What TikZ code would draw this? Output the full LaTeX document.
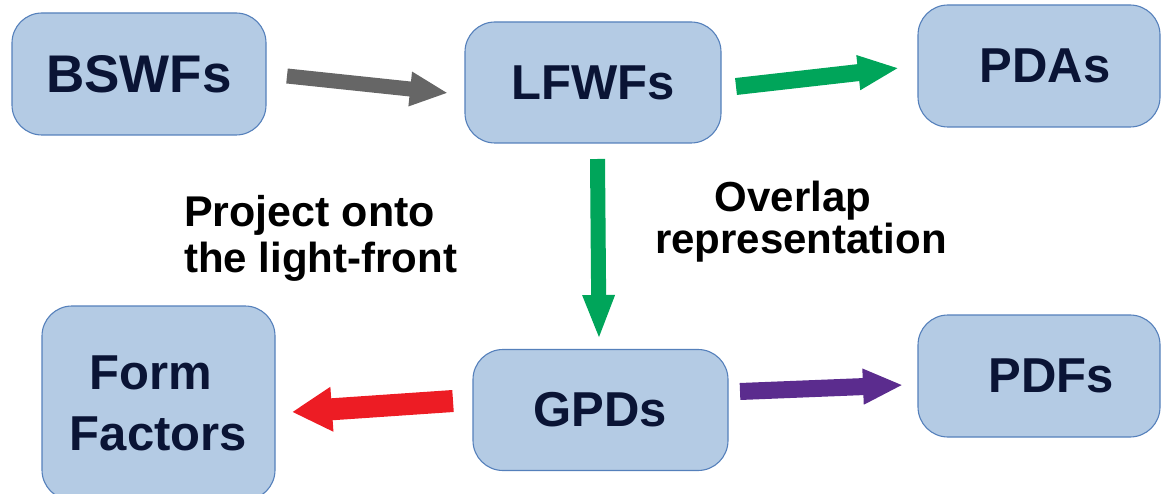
\documentclass[tikz,border=0pt]{standalone}
\usepackage{fontspec}
\setmainfont{Liberation Sans}
\usetikzlibrary{arrows.meta}
\definecolor{boxfill}{HTML}{B4CBE4}
\definecolor{boxline}{HTML}{5580BB}
\definecolor{boxtext}{HTML}{0A1435}
\definecolor{agray}{HTML}{666666}
\definecolor{agreen}{HTML}{00A55A}
\definecolor{ared}{HTML}{ED1C24}
\definecolor{apurple}{HTML}{5B2C8E}
\tikzset{
  box/.style={draw=boxline, line width=1.1pt, fill=boxfill, rounded corners=30pt,
    minimum width=#1, inner sep=0pt, text=boxtext,
    font=\fontsize{49}{60}\selectfont\bfseries, align=center},
  lbl/.style={font=\fontsize{43}{46}\selectfont\bfseries, inner sep=0pt},
}
\begin{document}
\begin{tikzpicture}[x=1pt,y=-1pt]
\useasboundingbox (0,0) rectangle (1161,494);
\node[box=254pt, minimum height=122pt, font=\fontsize{53}{60}\selectfont\bfseries] (bswf) at (139,74) {BSWFs};
\node[box=256pt, minimum height=121pt] (lfwf) at (593,82.5) {LFWFs};
\node[box=242pt, minimum height=122pt] (pda) at (1039,66) {\hspace*{12pt}PDAs};
\node[box=255pt, minimum height=121pt] (gpd) at (600.5,410) {GPDs};
\node[box=242pt, minimum height=122pt] (pdf) at (1039,376) {\hspace*{24pt}PDFs};
\node[box=233pt, minimum height=194pt, font=\fontsize{49}{61}\selectfont\bfseries] (ff) at (158.5,403) {\hspace*{-16pt}Form\\Factors};
\node[lbl, align=left, anchor=west] (proj) at (184,238) {Project onto\\{\fontsize{42}{46}\selectfont the light-front}};
\node[lbl, align=center, font=\fontsize{42}{42}\selectfont\bfseries] (ovl) at (801,222) {\hspace*{-16pt}Overlap\\representation};
% arrow end points
\coordinate (g1) at (287,76);   \coordinate (g2) at (448,93);
\coordinate (t1) at (736,86.5); \coordinate (t2) at (899,68);
\coordinate (v1) at (597.5,159);\coordinate (v2) at (599,340);
\coordinate (r1) at (453,401);  \coordinate (r2) at (292,412);
\coordinate (p1) at (740,391.5);\coordinate (p2) at (903,385);
\draw[agray, line width=15pt, -{Triangle[length=38pt,width=32pt]}] (g1) -- (g2);
\draw[agreen, line width=17pt, -{Triangle[length=41pt,width=32pt]}] (t1) -- (t2);
\draw[agreen, line width=15pt, -{Triangle[length=45pt,width=29pt]}] (v1) -- (v2);
\draw[ared, line width=22pt, -{Triangle[length=40pt,width=42pt]}] (r1) -- (r2);
\draw[apurple, line width=17pt, -{Triangle[length=40pt,width=33pt]}] (p1) -- (p2);
\end{tikzpicture}
\end{document}
